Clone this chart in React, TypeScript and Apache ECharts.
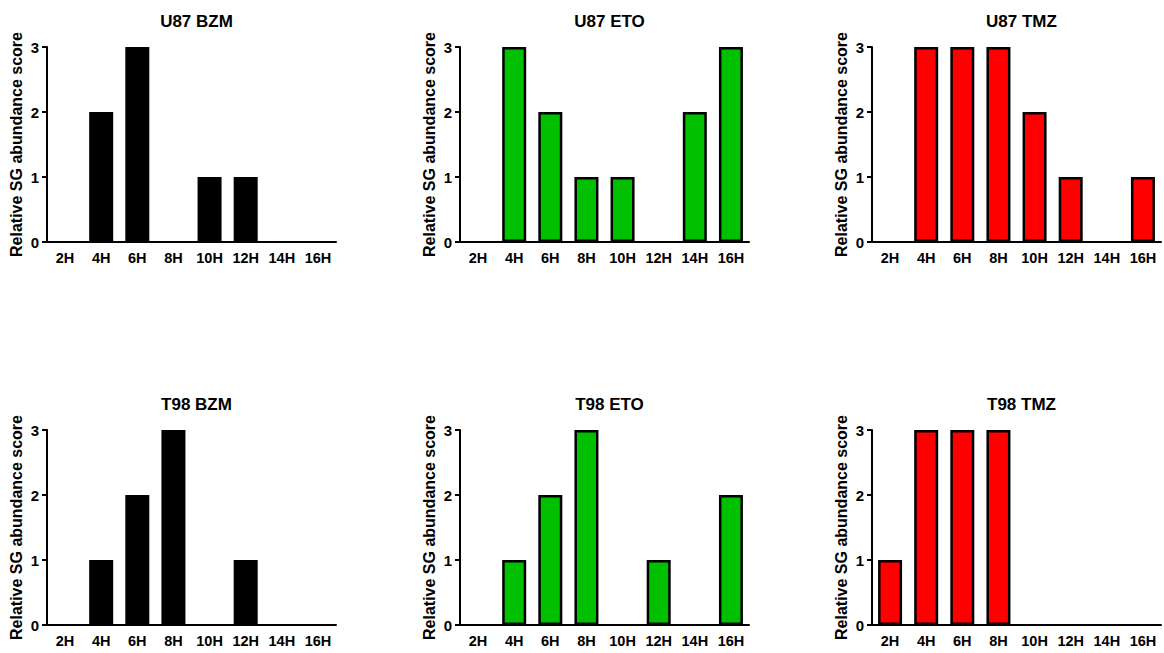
import React, { useEffect, useRef } from "react";
import * as echarts from "echarts";

const categories = ["2H", "4H", "6H", "8H", "10H", "12H", "14H", "16H"];
const yTicks = [0, 1, 2, 3];

const u87Bzm = [0, 2, 3, 0, 1, 1, 0, 0];
const u87Eto = [0, 3, 2, 1, 1, 0, 2, 3];
const u87Tmz = [0, 3, 3, 3, 2, 1, 0, 1];
const t98Bzm = [0, 1, 2, 3, 0, 1, 0, 0];
const t98Eto = [0, 1, 2, 3, 0, 1, 0, 2];
const t98Tmz = [1, 3, 3, 3, 0, 0, 0, 0];

const panelTitles = ["U87 BZM", "U87 ETO", "U87 TMZ", "T98 BZM", "T98 ETO", "T98 TMZ"];
const panelData = [u87Bzm, u87Eto, u87Tmz, t98Bzm, t98Eto, t98Tmz];
const panelColors = ["#000000", "#00c000", "#ff0000", "#000000", "#00c000", "#ff0000"];

const yName = "Relative SG abundance score";

const FONT = "'Liberation Sans', Arial, sans-serif";

export default function App() {
  const ref = useRef<HTMLDivElement>(null);
  useEffect(() => {
    document.body.style.margin = "0";
    const chart = echarts.init(ref.current!, null, { renderer: "svg" });
    const lefts = [47, 460, 872];
    const tops = [47, 430];
    const gw = 289;
    const gh = 195;
    const grids: any[] = [];
    const xAxes: any[] = [];
    const yAxes: any[] = [];
    const series: any[] = [];
    const titles: any[] = [];
    panelData.forEach((data, i) => {
      const col = i % 3;
      const row = Math.floor(i / 3);
      grids.push({ left: lefts[col], top: tops[row], width: gw, height: gh, containLabel: false });
      titles.push({
        text: panelTitles[i],
        left: lefts[col] + gw / 2,
        top: tops[row] - 39,
        textAlign: "center",
        textStyle: { fontFamily: FONT, fontWeight: "bold", fontSize: 17, color: "#000" },
      });
      xAxes.push({
        type: "category",
        gridIndex: i,
        data: categories,
        axisLine: { lineStyle: { color: "#000", width: 2 } },
        axisTick: { alignWithLabel: true, length: 5, lineStyle: { color: "#000", width: 2 } },
        axisLabel: { color: "#000", fontFamily: FONT, fontWeight: "bold", fontSize: 14.5, margin: 8, interval: 0 },
        splitLine: { show: false },
      });
      yAxes.push({
        type: "value",
        gridIndex: i,
        min: 0,
        max: 3,
        interval: 1,
        name: yName,
        nameLocation: "middle",
        nameGap: 23,
        nameTextStyle: { fontFamily: FONT, fontWeight: "bold", fontSize: 16, color: "#000" },
        axisLine: { show: true, lineStyle: { color: "#000", width: 2 } },
        axisTick: { show: true, length: 5, lineStyle: { color: "#000", width: 2 } },
        axisLabel: {
          color: "#000",
          fontFamily: FONT,
          fontWeight: "bold",
          fontSize: 15,
          margin: 8,
          formatter: (v: number) => (yTicks.includes(v) ? String(v) : ""),
        },
        splitLine: { show: false },
      });
      series.push({
        type: "bar",
        xAxisIndex: i,
        yAxisIndex: i,
        data: data.map((v) => (v === 0 ? { value: v, itemStyle: { opacity: 0 } } : v)),
        barWidth: 24,
        itemStyle: { color: panelColors[i], borderColor: "#000", borderWidth: 2.5 },
      });
    });
    chart.setOption({
      animation: false,
      backgroundColor: "#fff",
      title: titles,
      grid: grids,
      xAxis: xAxes,
      yAxis: yAxes,
      series,
    });
    return () => chart.dispose();
  }, []);
  return <div ref={ref} style={{ width: 1164, height: 653 }} />;
}
